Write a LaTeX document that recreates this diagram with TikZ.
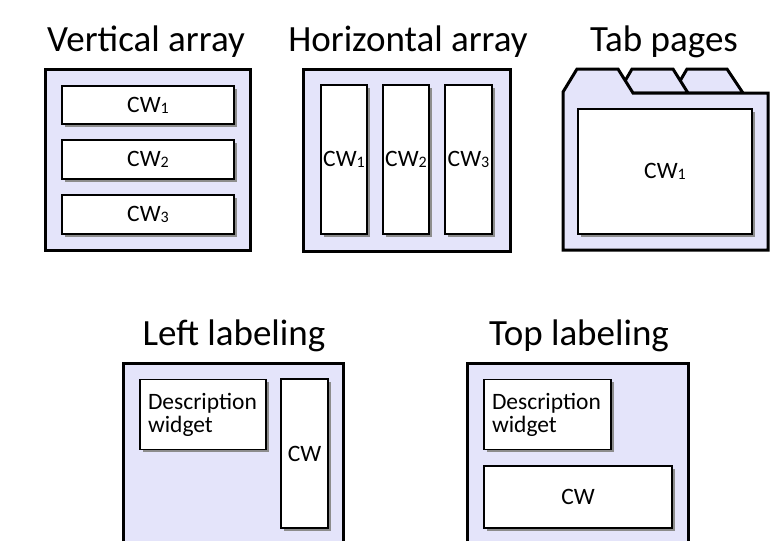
\documentclass[tikz,border=0pt]{standalone}
\usepackage{fontspec}
\setmainfont{Carlito}
\definecolor{lav}{RGB}{228,228,250}
\definecolor{shd}{RGB}{140,140,140}
\newcommand{\cwn}[1]{CW\raisebox{-1pt}{\fontsize{16}{16}\selectfont #1}}
\begin{document}
\begin{tikzpicture}[x=1pt,y=-1pt,
  outer/.style={draw=black, line width=3pt, fill=lav, line join=miter},
  cwbox/.style={draw=black, line width=1.8pt, fill=white, inner sep=0pt,
    font=\fontsize{23.5}{24}\selectfont,
    preaction={fill=shd, transform canvas={xshift=2.5pt,yshift=-2.5pt}}},
  ttl/.style={font=\fontsize{37}{40}\selectfont, anchor=base, inner sep=0pt},
  descbox/.style={cwbox, text width=110pt, align=left, inner xsep=8pt,
    minimum width=126pt, minimum height=70pt, font=\fontsize{23.5}{23}\selectfont}]
\useasboundingbox (0,0) rectangle (778,541);

% ---------- Vertical array ----------
\node[ttl] (t1) at (146,51) {Vertical array};
\node[outer, minimum width=205pt, minimum height=181pt, inner sep=0pt] (va) at (147.5,159.5) {};
\node[cwbox, minimum width=172pt, minimum height=38pt] (va1) at (148,105) {\cwn{1}};
\node[cwbox, minimum width=172pt, minimum height=39pt] (va2) at (148,159.5) {\cwn{2}};
\node[cwbox, minimum width=172pt, minimum height=39pt] (va3) at (148,214.5) {\cwn{3}};

% ---------- Horizontal array ----------
\node[ttl] (t2) at (408,51) {Horizontal array};
\node[outer, minimum width=207pt, minimum height=182pt, inner sep=0pt] (ha) at (406.5,160) {};
\node[cwbox, minimum width=46pt, minimum height=149pt] (ha1) at (344,159.5) {\cwn{1}};
\node[cwbox, minimum width=46pt, minimum height=149pt] (ha2) at (406,159.5) {\cwn{2}};
\node[cwbox, minimum width=47pt, minimum height=149pt] (ha3) at (468.5,159.5) {\cwn{3}};

% ---------- Tab pages ----------
\node[ttl] (t3) at (664,51) {Tab pages};
\draw[outer] (673,93) -- (687,69) -- (727,69) -- (743,93) -- cycle;
\draw[outer] (618,93) -- (632,69) -- (673,69) -- (688,93) -- cycle;
\draw[outer] (563,250) -- (563,92) -- (577,69) -- (618,69) -- (633,93) -- (768,93) -- (768,250) -- cycle;
\node[cwbox, minimum width=174pt, minimum height=125pt] (tp1) at (665,171.5) {\cwn{1}};

% ---------- Left labeling ----------
\node[ttl] (t4) at (234,345) {Left labeling};
\fill[lav] (123,363) rectangle (343,541);
\draw[black, line width=3pt, line join=miter] (123,541) -- (123,363) -- (343,363) -- (343,541);
\node[descbox] (ld) at (203,414.5) {Description widget};
\node[cwbox, minimum width=47pt, minimum height=149pt] (lc) at (304.5,453.5) {CW};

% ---------- Top labeling ----------
\node[ttl] (t5) at (579,345) {Top labeling};
\fill[lav] (467,363) rectangle (688,541);
\draw[black, line width=3pt, line join=miter] (467,541) -- (467,363) -- (688,363) -- (688,541);
\node[descbox, minimum width=127pt, text width=111pt] (td) at (547.5,414.5) {Description widget};
\node[cwbox, minimum width=188pt, minimum height=62pt] (tc) at (578,497) {CW};
\end{tikzpicture}
\end{document}
